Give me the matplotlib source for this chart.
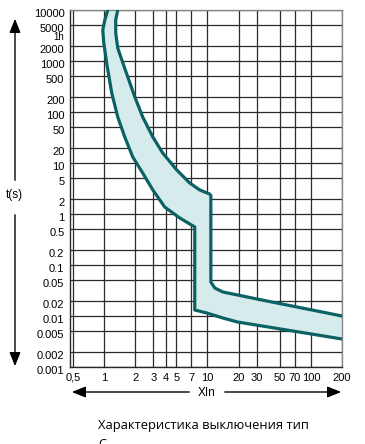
import matplotlib
matplotlib.use("Agg")
import matplotlib.pyplot as plt
import matplotlib.transforms as mtransforms

# сетка
x_ticks = [0.5, 1, 2, 3, 4, 5, 7, 10, 20, 30, 50, 70, 100, 200]
x_labels = ["0,5", "1", "2", "3", "4", "5", "7", "10", "20", "30", "50", "70", "100", "200"]
y_ticks = [10000, 5000, 3600, 2000, 1000, 500, 200, 100, 50, 20, 10, 5, 2, 1,
           0.5, 0.2, 0.1, 0.05, 0.02, 0.01, 0.005, 0.002, 0.001]
y_labels = ["10000", "5000", "1h", "2000", "1000", "500", "200", "100", "50", "20", "10", "5", "2", "1",
            "0.5", "0.2", "0.1", "0.05", "0.02", "0.01", "0.005", "0.002", "0.001"]

# верхняя граница (срабатывание)
upper_x = [1.36, 1.30, 1.30, 1.36, 1.49, 1.70, 1.99, 2.37, 2.97, 3.70, 5.06, 6.75, 8.43, 10.5,
           10.8, 10.8, 11.8, 14.1, 32.1, 200]
upper_y = [10000, 6370, 3540, 1799, 1047, 486, 197, 79.8, 32.3, 15.7, 7.29, 4.06, 2.96, 2.47,
           2.3, 0.0464, 0.0354, 0.0296, 0.021, 0.01]

# нижняя граница (несрабатывание)
lower_x = [1.09, 1.02, 0.975, 0.997, 1.07, 1.19, 1.36, 1.59, 1.90, 2.37, 2.97, 3.87, 5.41, 7.55,
           7.55, 9.86, 14.1, 19.6, 200]
lower_y = [10000, 6370, 4055, 2254, 835, 236, 79.8, 32.3, 13.1, 6.37, 2.96, 1.37, 0.835, 0.556,
           0.0131, 0.01146, 0.00914, 0.00762, 0.00354]

W, H = 365, 444
fig = plt.figure(figsize=(W / 100, H / 100), dpi=100)
ax = fig.add_axes([70 / W, (H - 367) / H, 272 / W, 357 / H])

num_font = ["Liberation Sans Narrow", "Liberation Sans"]

ax.set_xscale("log")
ax.set_yscale("log")
ax.set_xlim(0.47, 200)
ax.set_ylim(0.001, 10000)

ax.fill(upper_x + lower_x[::-1], upper_y + lower_y[::-1], facecolor="#d6ebeb", edgecolor="none", zorder=2)
ax.plot(upper_x, upper_y, color="#0b6264", lw=2.3, solid_joinstyle="round", zorder=3)
ax.plot(lower_x, lower_y, color="#0b6264", lw=2.3, solid_joinstyle="round", zorder=3)

ax.set_xticks(x_ticks)
ax.set_xticklabels(x_labels, family=num_font, fontsize=8)
ax.set_yticks(y_ticks)
ax.set_yticklabels(y_labels, family=num_font, fontsize=8)
ax.minorticks_off()
ax.tick_params(length=0, pad=4)
ax.grid(True, color="#2a2a2a", lw=0.9, zorder=1)
ax.set_axisbelow(True)
ax.yaxis.get_gridlines()[y_ticks.index(3600)].set_visible(False)

# подписи оси Y чуть ниже линий
shift = mtransforms.ScaledTranslation(0, -3 / 100, fig.dpi_scale_trans)
for lab in ax.get_yticklabels():
    lab.set_transform(lab.get_transform() + shift)
ax.get_yticklabels()[y_ticks.index(3600)].set_fontsize(7)

for side in ["left", "bottom"]:
    ax.spines[side].set_color("#2a2a2a")
    ax.spines[side].set_linewidth(1.0)
for side in ["top", "right"]:
    ax.spines[side].set_color("#888888")
    ax.spines[side].set_linewidth(1.0)

arrow = dict(arrowstyle="-|>,head_length=0.7,head_width=0.28", color="black", lw=1.0, mutation_scale=12)
fig_ax = fig.add_axes([0, 0, 1, 1], facecolor="none")
fig_ax.set_xlim(0, W)
fig_ax.set_ylim(H, 0)
fig_ax.axis("off")
fig_ax.annotate("", xy=(15, 16), xytext=(15, 183), arrowprops=arrow)
fig_ax.annotate("", xy=(15, 369), xytext=(15, 212), arrowprops=arrow)
fig_ax.text(14, 195, "t(s)", family=num_font, fontsize=8.5, ha="center", va="center")
fig_ax.annotate("", xy=(69, 392), xytext=(192, 392), arrowprops=arrow)
fig_ax.annotate("", xy=(344, 392), xytext=(222, 392), arrowprops=arrow)
fig_ax.text(207, 393, "XIn", family=num_font, fontsize=8.5, ha="center", va="center")

title_font = ["Open Sans", "DejaVu Sans"]
fig_ax.text(98, 425, "Характеристика выключения тип", family=title_font,
            fontsize=9.3, ha="left", va="center")
fig_ax.text(98, 444, "С", family=title_font, fontsize=9.3, ha="left", va="center")

fig.savefig("out.png", dpi=100)
